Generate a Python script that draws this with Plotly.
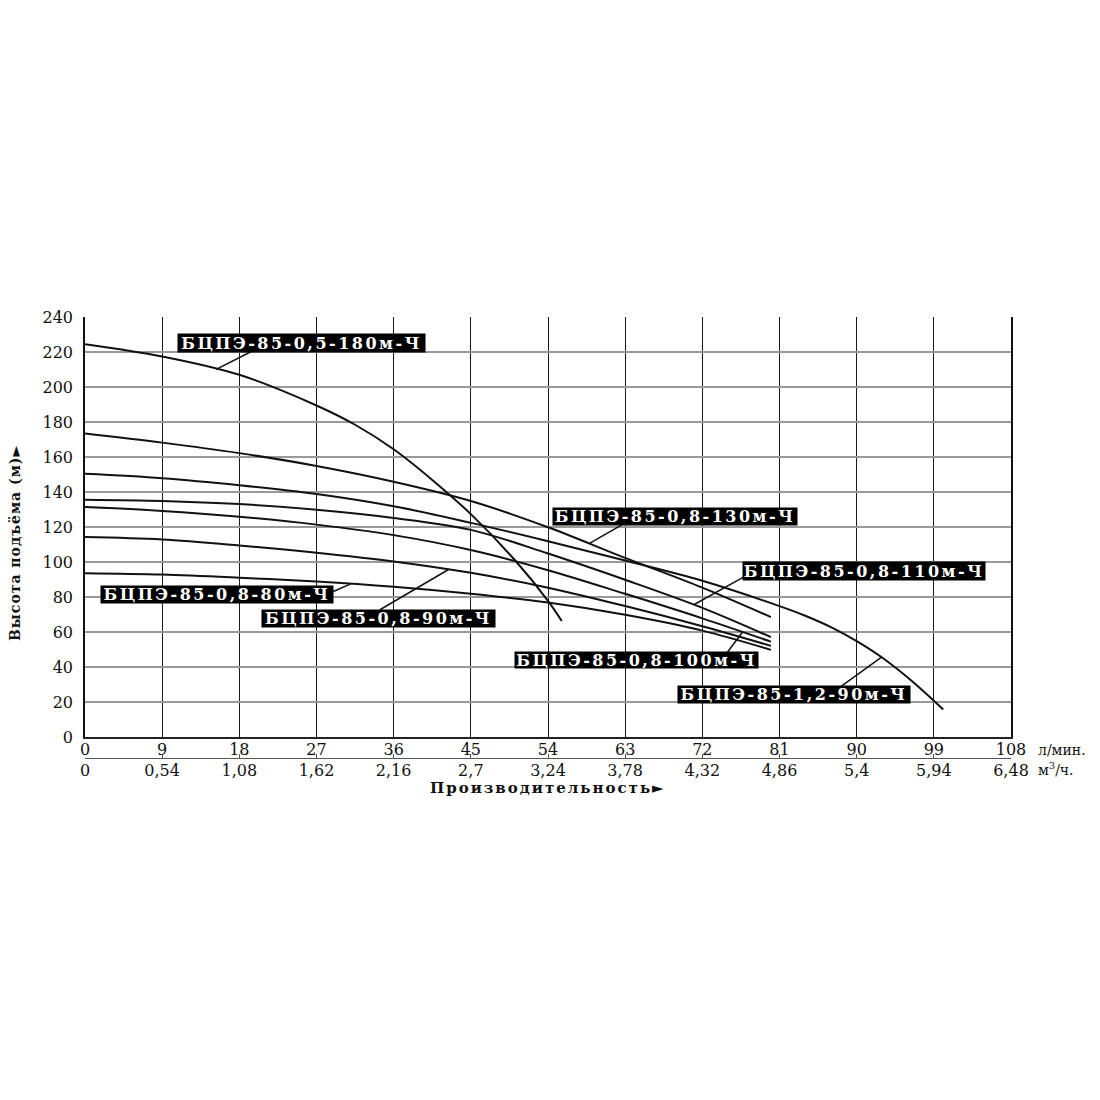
import numpy as np
import plotly.graph_objects as go

# ---- axis ticks ----
x_ticks = [0, 9, 18, 27, 36, 45, 54, 63, 72, 81, 90, 99, 108]
x_lmin_text = ["0", "9", "18", "27", "36", "45", "54", "63", "72", "81", "90", "99", "108"]
x_m3h_text = ["0", "0,54", "1,08", "1,62", "2,16", "2,7", "3,24", "3,78", "4,32", "4,86", "5,4", "5,94", "6,48"]
y_ticks = [0, 20, 40, 60, 80, 100, 120, 140, 160, 180, 200, 220, 240]
y_text = ["0", "20", "40", "60", "80", "100", "120", "140", "160", "180", "200", "220", "240"]

# ---- curves (flow l/min, head m) ----
q_05_180 = [0, 9, 18, 27, 31.5, 36, 40.5, 45, 50, 54, 55.6]
h_05_180 = [224.5, 217.5, 207, 189.5, 178.5, 164.5, 147, 127.5, 102, 78, 66.5]

q_08_130 = [0, 9, 18, 27, 36, 45, 54, 63, 72, 80]
h_08_130 = [173.5, 168.3, 162.3, 155, 146, 135, 120, 102.5, 85.5, 68.7]

q_12_90 = [0, 9, 18, 27, 36, 45, 54, 63, 72, 81, 84, 87, 90, 93, 96.5, 100.1]
h_12_90 = [150.5, 148, 144, 139, 132, 122.5, 112, 101, 89.5, 75, 69.5, 63, 55, 45.5, 32, 16]

q_08_110 = [0, 9, 18, 27, 36, 45, 54, 63, 72, 80]
h_08_110 = [135.7, 135, 133.2, 130, 125.3, 118.5, 105, 90, 74, 57.3]

q_08_100 = [0, 9, 18, 27, 36, 45, 54, 63, 72, 80]
h_08_100 = [131.5, 129.3, 126, 121.5, 115.5, 107, 95.5, 82, 68, 54.7]

q_08_90 = [0, 9, 18, 27, 36, 45, 54, 63, 72, 80]
h_08_90 = [114.4, 113, 109.6, 105.5, 100.5, 94, 85.5, 75, 63.5, 52.3]

q_08_80 = [0, 9, 18, 27, 36, 45, 54, 63, 72, 80]
h_08_80 = [93.8, 93, 91.2, 89, 86, 82, 77, 70, 61, 50]

names = ["БЦПЭ-85-0,5-180м-Ч", "БЦПЭ-85-0,8-130м-Ч", "БЦПЭ-85-1,2-90м-Ч",
         "БЦПЭ-85-0,8-110м-Ч", "БЦПЭ-85-0,8-100м-Ч", "БЦПЭ-85-0,8-90м-Ч",
         "БЦПЭ-85-0,8-80м-Ч"]
curves = [(q_05_180, h_05_180), (q_08_130, h_08_130), (q_12_90, h_12_90),
          (q_08_110, h_08_110), (q_08_100, h_08_100), (q_08_90, h_08_90),
          (q_08_80, h_08_80)]

# label layout: (box centre x, box centre y, box width px, box height px,
#                pointer tail x, pointer tail y, pointer tip flow)
label_layout = [
    (25.25, 225.4, 247, 18, 19.4, 220.3, 15.3),
    (68.8, 126.3, 244, 17, 62.6, 121.4, 58.8),
    (82.7, 24.3, 232, 17, 88.06, 28.7, 92.9),
    (90.85, 95.1, 242, 18, 76.8, 91.5, 71.0),
    (64.3, 44.0, 243, 16, 74.84, 48.1, 76.7),
    (34.2, 68.1, 233, 17, 34.4, 72.9, 42.4),
    (15.45, 81.4, 232, 17, 28.96, 83.3, 31.0),
]

LINE = "#111111"
SERIF = "DejaVu Serif"

fig = go.Figure()
for name, (q, h) in zip(names, curves):
    fig.add_trace(go.Scatter(x=q, y=h, mode="lines", name=name,
                             line=dict(color=LINE, width=2, shape="spline", smoothing=1.0),
                             showlegend=False, hoverinfo="skip"))

# helper trace so the m3/h axis is drawn
fig.add_trace(go.Scatter(x=x_ticks, y=[None] * len(x_ticks), xaxis="x2",
                         showlegend=False, hoverinfo="skip", mode="lines"))

shapes = []
annotations = []
for name, (q, h), (cx, cy, w, hh, tx, ty, tipq) in zip(names, curves, label_layout):
    tiph = float(np.interp(tipq, q, h))
    shapes.append(dict(type="line", xref="x", yref="y", x0=tx, y0=ty, x1=tipq, y1=tiph,
                       line=dict(color=LINE, width=1.5), layer="above"))
    annotations.append(dict(
        xref="x", yref="y", x=cx, y=cy, showarrow=False,
        text='<b><span style="letter-spacing:2.5px">' + name + '</span></b>',
        font=dict(family=SERIF, size=16, color="white"),
        bgcolor="black", width=w, height=hh, borderpad=0, align="center", valign="middle"))

annotations += [
    dict(xref="paper", yref="paper", x=-0.0756, y=0.4875, textangle=-90, showarrow=False,
         xanchor="center", yanchor="middle",
         text='<b><span style="letter-spacing:1px">Высота подъёма (м)►</span></b>',
         font=dict(family=SERIF, size=14, color="#111")),
    dict(xref="paper", yref="paper", x=0.5, y=-0.069, showarrow=False,
         xanchor="center", yanchor="middle",
         text='<b><span style="letter-spacing:2px">Производительность►</span></b>',
         font=dict(family=SERIF, size=15, color="#111")),
    dict(xref="paper", yref="paper", x=1.027, y=0.019, xanchor="left", yanchor="middle",
         showarrow=False, text="л/мин.", font=dict(family=SERIF, size=14, color="#111")),
    dict(xref="paper", yref="paper", x=1.027, y=-0.024, xanchor="left", yanchor="middle",
         showarrow=False, text="м<sup>3</sup>/ч.", font=dict(family=SERIF, size=14, color="#111")),
]

tickfont = dict(family=SERIF, size=16, color="#111")

fig.update_layout(
    width=1100, height=1100,
    paper_bgcolor="white", plot_bgcolor="white",
    margin=dict(l=77, r=97, t=309, b=350, autoexpand=False),
    shapes=shapes, annotations=annotations,
    xaxis=dict(range=[0, 108], tickvals=x_ticks, ticktext=x_lmin_text,
               showgrid=True, gridcolor="#1a1a1a", gridwidth=1.3,
               showline=True, linecolor="#222", linewidth=1.5,
               zeroline=False, ticks="", tickfont=tickfont, ticklabelstandoff=-3,
               anchor="y", automargin=False),
    xaxis2=dict(range=[0, 108], tickvals=x_ticks, ticktext=x_m3h_text,
                overlaying="x", anchor="free", position=0, side="bottom",
                showgrid=False, zeroline=False, showline=True, linecolor="#555",
                linewidth=1, ticks="inside", ticklen=4, tickcolor="#555",
                tickfont=tickfont, ticklabelstandoff=-2, automargin=False),
    yaxis=dict(range=[0, 240], tickvals=y_ticks, ticktext=y_text,
               domain=[0.0465, 1],
               showgrid=True, gridcolor="#999", gridwidth=1.8,
               showline=True, linecolor="#111", linewidth=1.5, mirror=True,
               zeroline=False, ticks="", tickfont=tickfont, ticklabelstandoff=7,
               automargin=False),
)

fig.write_html("out.html")
